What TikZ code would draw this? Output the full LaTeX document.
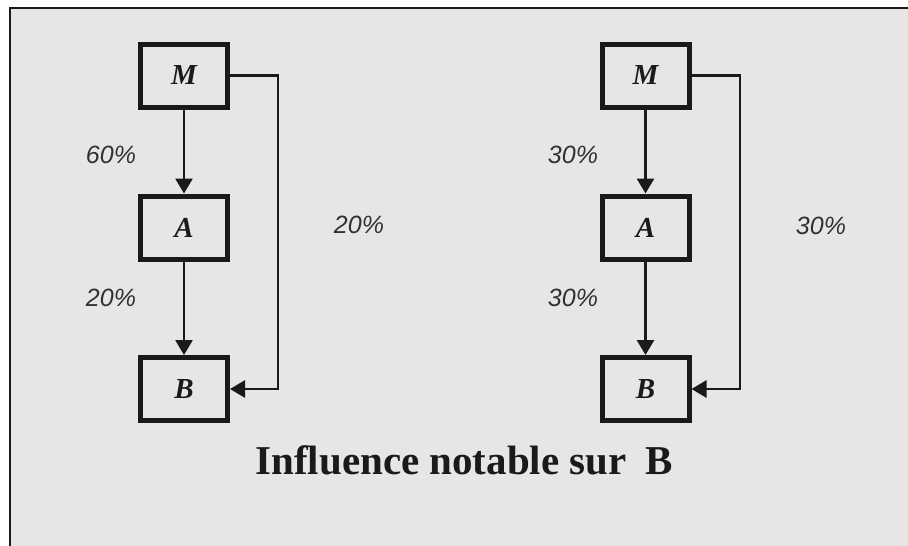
\documentclass[tikz,border=0pt]{standalone}
\usepackage{fontspec}
\setmainfont{Liberation Serif}
\newfontfamily\labfont{Liberation Sans}
\usetikzlibrary{arrows.meta}
\definecolor{bg}{HTML}{E6E6E6}
\definecolor{ink}{HTML}{1A1A1A}
\tikzset{
  box/.style={draw=ink, line width=5pt, fill=bg, minimum width=87pt, minimum height=63pt, inner sep=0pt,
    font=\fontsize{29}{30}\selectfont\bfseries\itshape, text=ink},
  conn/.style={draw=ink, line width=2.8pt, -{Triangle[width=17pt,length=15pt]}},
  pct/.style={font=\labfont\fontsize{25}{28}\selectfont\itshape, text=ink!90, inner sep=0pt}
}
\begin{document}
\begin{tikzpicture}[x=1pt,y=-1pt]
\useasboundingbox (0,0) rectangle (908,546);
\fill[white] (0,0) rectangle (908,546);
\fill[bg] (10,8) rectangle (908,546);
\draw[ink, line width=2pt] (10,546) -- (10,8) -- (908,8);
% left diagram
\node[box] (M1) at (184,75.5) {M};
\node[box] (A1) at (184,227.5) {A};
\node[box] (B1) at (184,389) {B};
\coordinate (t1) at (278,75.5);
\coordinate (b1) at (278,389);
\draw[conn] (M1) -- (A1);
\draw[conn] (A1) -- (B1);
\draw[conn] (M1.east) -- (t1) -- (b1) -- (B1.east);
\node[pct] (p1) at (111,155) {60\%};
\node[pct] (p2) at (111,298) {20\%};
\node[pct] (p3) at (359,225) {20\%};
% right diagram
\node[box] (M2) at (645.5,75.5) {M};
\node[box] (A2) at (645.5,227.5) {A};
\node[box] (B2) at (645.5,389) {B};
\coordinate (t2) at (740,75.5);
\coordinate (b2) at (740,389);
\draw[conn] (M2) -- (A2);
\draw[conn] (A2) -- (B2);
\draw[conn] (M2.east) -- (t2) -- (b2) -- (B2.east);
\node[pct] (q1) at (573,155) {30\%};
\node[pct] (q2) at (573,298) {30\%};
\node[pct] (q3) at (821,226) {30\%};
% title
\node[font=\fontsize{41}{44}\selectfont\bfseries, text=ink, inner sep=0pt] (title) at (464,460) {Influence notable sur\hspace{0.45em}B};
\end{tikzpicture}
\end{document}
